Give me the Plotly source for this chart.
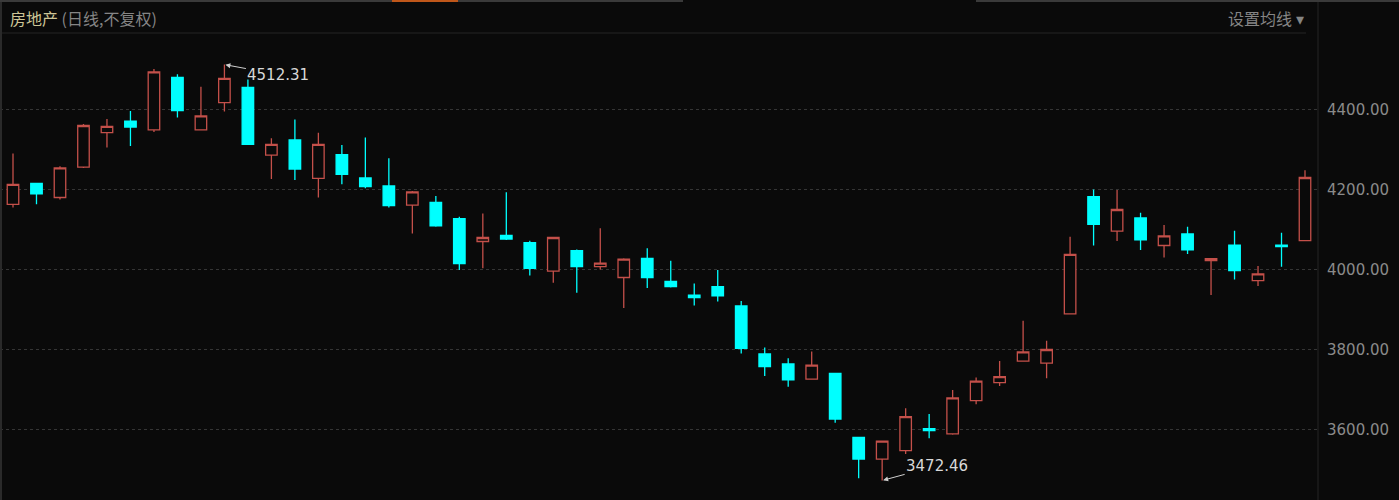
import plotly.graph_objects as go

# ---- data ----
day_index = list(range(56))
open_p = [4163, 4215, 4180, 4256, 4342, 4371, 4349, 4480, 4349, 4417,
          4455, 4286, 4324, 4228, 4287, 4229, 4209, 4161, 4168, 4127,
          4070, 4085, 4067, 3996, 4047, 4007, 3980, 4028, 3970, 3936,
          3957, 3909, 3789, 3764, 3726, 3740, 3580, 3526, 3547, 3602,
          3589, 3672, 3717, 3771, 3766, 3889, 4182, 4096, 4129, 4060,
          4089, 4022, 4061, 3972, 4061, 4072]
high_p = [4290, 4217, 4258, 4364, 4376, 4396, 4501, 4488, 4457, 4512.31,
          4475, 4328, 4375, 4342, 4311, 4330, 4278, 4196, 4184, 4132,
          4140, 4193, 4072, 4082, 4050, 4103, 4028, 4053, 4022, 3965,
          3999, 3921, 3805, 3778, 3795, 3741, 3581, 3572, 3653, 3639,
          3699, 3730, 3771, 3872, 3822, 4082, 4200, 4199, 4142, 4111,
          4107, 4028, 4097, 4009, 4092, 4248]
low_p = [4155, 4163, 4175, 4254, 4305, 4309, 4344, 4380, 4348, 4395,
         4312, 4226, 4224, 4180, 4213, 4203, 4155, 4090, 4107, 3999,
         4003, 4074, 3985, 3967, 3942, 4000, 3904, 3954, 3955, 3910,
         3920, 3790, 3734, 3707, 3725, 3617, 3478, 3472.46, 3539, 3578,
         3587, 3663, 3709, 3770, 3728, 3888, 4060, 4071, 4049, 4030,
         4039, 3936, 3975, 3959, 4007, 4071]
close_p = [4213, 4189, 4254, 4360, 4358, 4356, 4494, 4397, 4384, 4478,
           4313, 4313, 4251, 4313, 4238, 4207, 4160, 4194, 4109, 4015,
           4080, 4076, 4003, 4080, 4007, 4016, 4026, 3980, 3957, 3930,
           3934, 3803, 3757, 3724, 3761, 3626, 3526, 3571, 3632, 3597,
           3679, 3721, 3732, 3794, 3800, 4038, 4113, 4150, 4074, 4084,
           4049, 4027, 3997, 3989, 4057, 4230]
y_ticks = [3600, 3800, 4000, 4200, 4400]
title_name = "房地产"
title_sub = "(日线,不复权)"
menu_text = "设置均线 ▾"

BG = "#0a0a0a"
RED = "#c4504a"
CYAN = "#00ffff"

W, H = 1399, 500
L, R, T, B = 0, 81, 35, 0
PW = W - L - R
PH = H - T - B


def px(xp):
    return (xp - L) / PW


def py(yp):
    return (H - B - yp) / PH


fig = go.Figure()
fig.add_trace(go.Candlestick(
    x=day_index, open=open_p, high=high_p, low=low_p, close=close_p,
    increasing=dict(line=dict(color=RED, width=1.3), fillcolor=BG),
    decreasing=dict(line=dict(color=CYAN, width=1.3), fillcolor=CYAN),
    whiskerwidth=0, showlegend=False, hoverinfo="skip",
))

# max / min annotations
imax = high_p.index(max(high_p))
imin = low_p.index(min(low_p))
num_font = dict(color="#d8d8d8", size=15, family="DejaVu Sans")
fig.add_annotation(x=day_index[imax], y=high_p[imax], text=f"{high_p[imax]:.2f}",
                   showarrow=True, ax=54, ay=10, arrowhead=2, arrowsize=1,
                   arrowwidth=1, arrowcolor="#cfcfcf", standoff=1, font=num_font)
fig.add_annotation(x=day_index[imin], y=low_p[imin], text=f"{low_p[imin]:.2f}",
                   showarrow=True, ax=55, ay=-15, arrowhead=2, arrowsize=1,
                   arrowwidth=1, arrowcolor="#cfcfcf", standoff=1, font=num_font)

# header texts
fig.add_annotation(xref="paper", yref="paper", x=px(8), y=py(18),
                   xanchor="left", yanchor="middle", showarrow=False,
                   text=f"<span style='color:#cdc596'>{title_name}</span> "
                        f"<span style='color:#858585'>{title_sub}</span>",
                   font=dict(size=16, family="Noto Sans CJK SC"))
fig.add_annotation(xref="paper", yref="paper", x=px(1306), y=py(18),
                   xanchor="right", yanchor="middle", showarrow=False,
                   text=menu_text,
                   font=dict(size=16, color="#858585", family="Noto Sans CJK SC"))

# frame lines
shapes = [
    dict(type="line", xref="paper", yref="paper", x0=px(0), x1=px(1306),
         y0=py(33), y1=py(33), line=dict(color="#242424", width=1)),
    dict(type="line", xref="paper", yref="paper", x0=px(1318), x1=px(1318),
         y0=py(0), y1=py(500), line=dict(color="#242424", width=1)),
    dict(type="line", xref="paper", yref="paper", x0=px(1), x1=px(1),
         y0=py(0), y1=py(500), line=dict(color="#2a2a2a", width=2)),
    dict(type="line", xref="paper", yref="paper", x0=px(0), x1=px(683),
         y0=py(1), y1=py(1), line=dict(color="#3a3a3a", width=2)),
    dict(type="line", xref="paper", yref="paper", x0=px(976), x1=px(1399),
         y0=py(1), y1=py(1), line=dict(color="#3a3a3a", width=2)),
    dict(type="line", xref="paper", yref="paper", x0=px(392), x1=px(458),
         y0=py(1), y1=py(1), line=dict(color="#c0571a", width=2)),
]

# x range: candle 0 at px 13, spacing 23.49
sp = (1305 - 13) / 55
x0 = -13 / sp
x1 = (PW - 13) / sp

# y: 4400 at y=109.5, 2.5 units/px
ytop = 4400 + (109.5 - T) * 2.5
ybot = 4400 - (H - B - 109.5) * 2.5

fig.update_layout(
    width=W, height=H,
    margin=dict(l=L, r=R, t=T, b=B, autoexpand=False),
    paper_bgcolor=BG, plot_bgcolor=BG,
    shapes=shapes,
    xaxis=dict(range=[x0, x1], showgrid=False, showticklabels=False,
               zeroline=False, rangeslider=dict(visible=False), fixedrange=True),
    yaxis=dict(range=[ybot, ytop], side="right", tickvals=y_ticks,
               ticktext=[f"{v:.2f}" for v in y_ticks],
               showgrid=True, gridcolor="#353535", griddash="dot", gridwidth=1,
               zeroline=False, ticks="outside", ticklen=5, tickcolor=BG,
               tickfont=dict(size=15, color="#8a8a8a", family="DejaVu Sans"),
               fixedrange=True),
)

fig.write_html("out.html",
               config={"displayModeBar": False, "staticPlot": True},
               post_script="document.body.style.margin='0px';document.body.style.background='#0a0a0a';")
